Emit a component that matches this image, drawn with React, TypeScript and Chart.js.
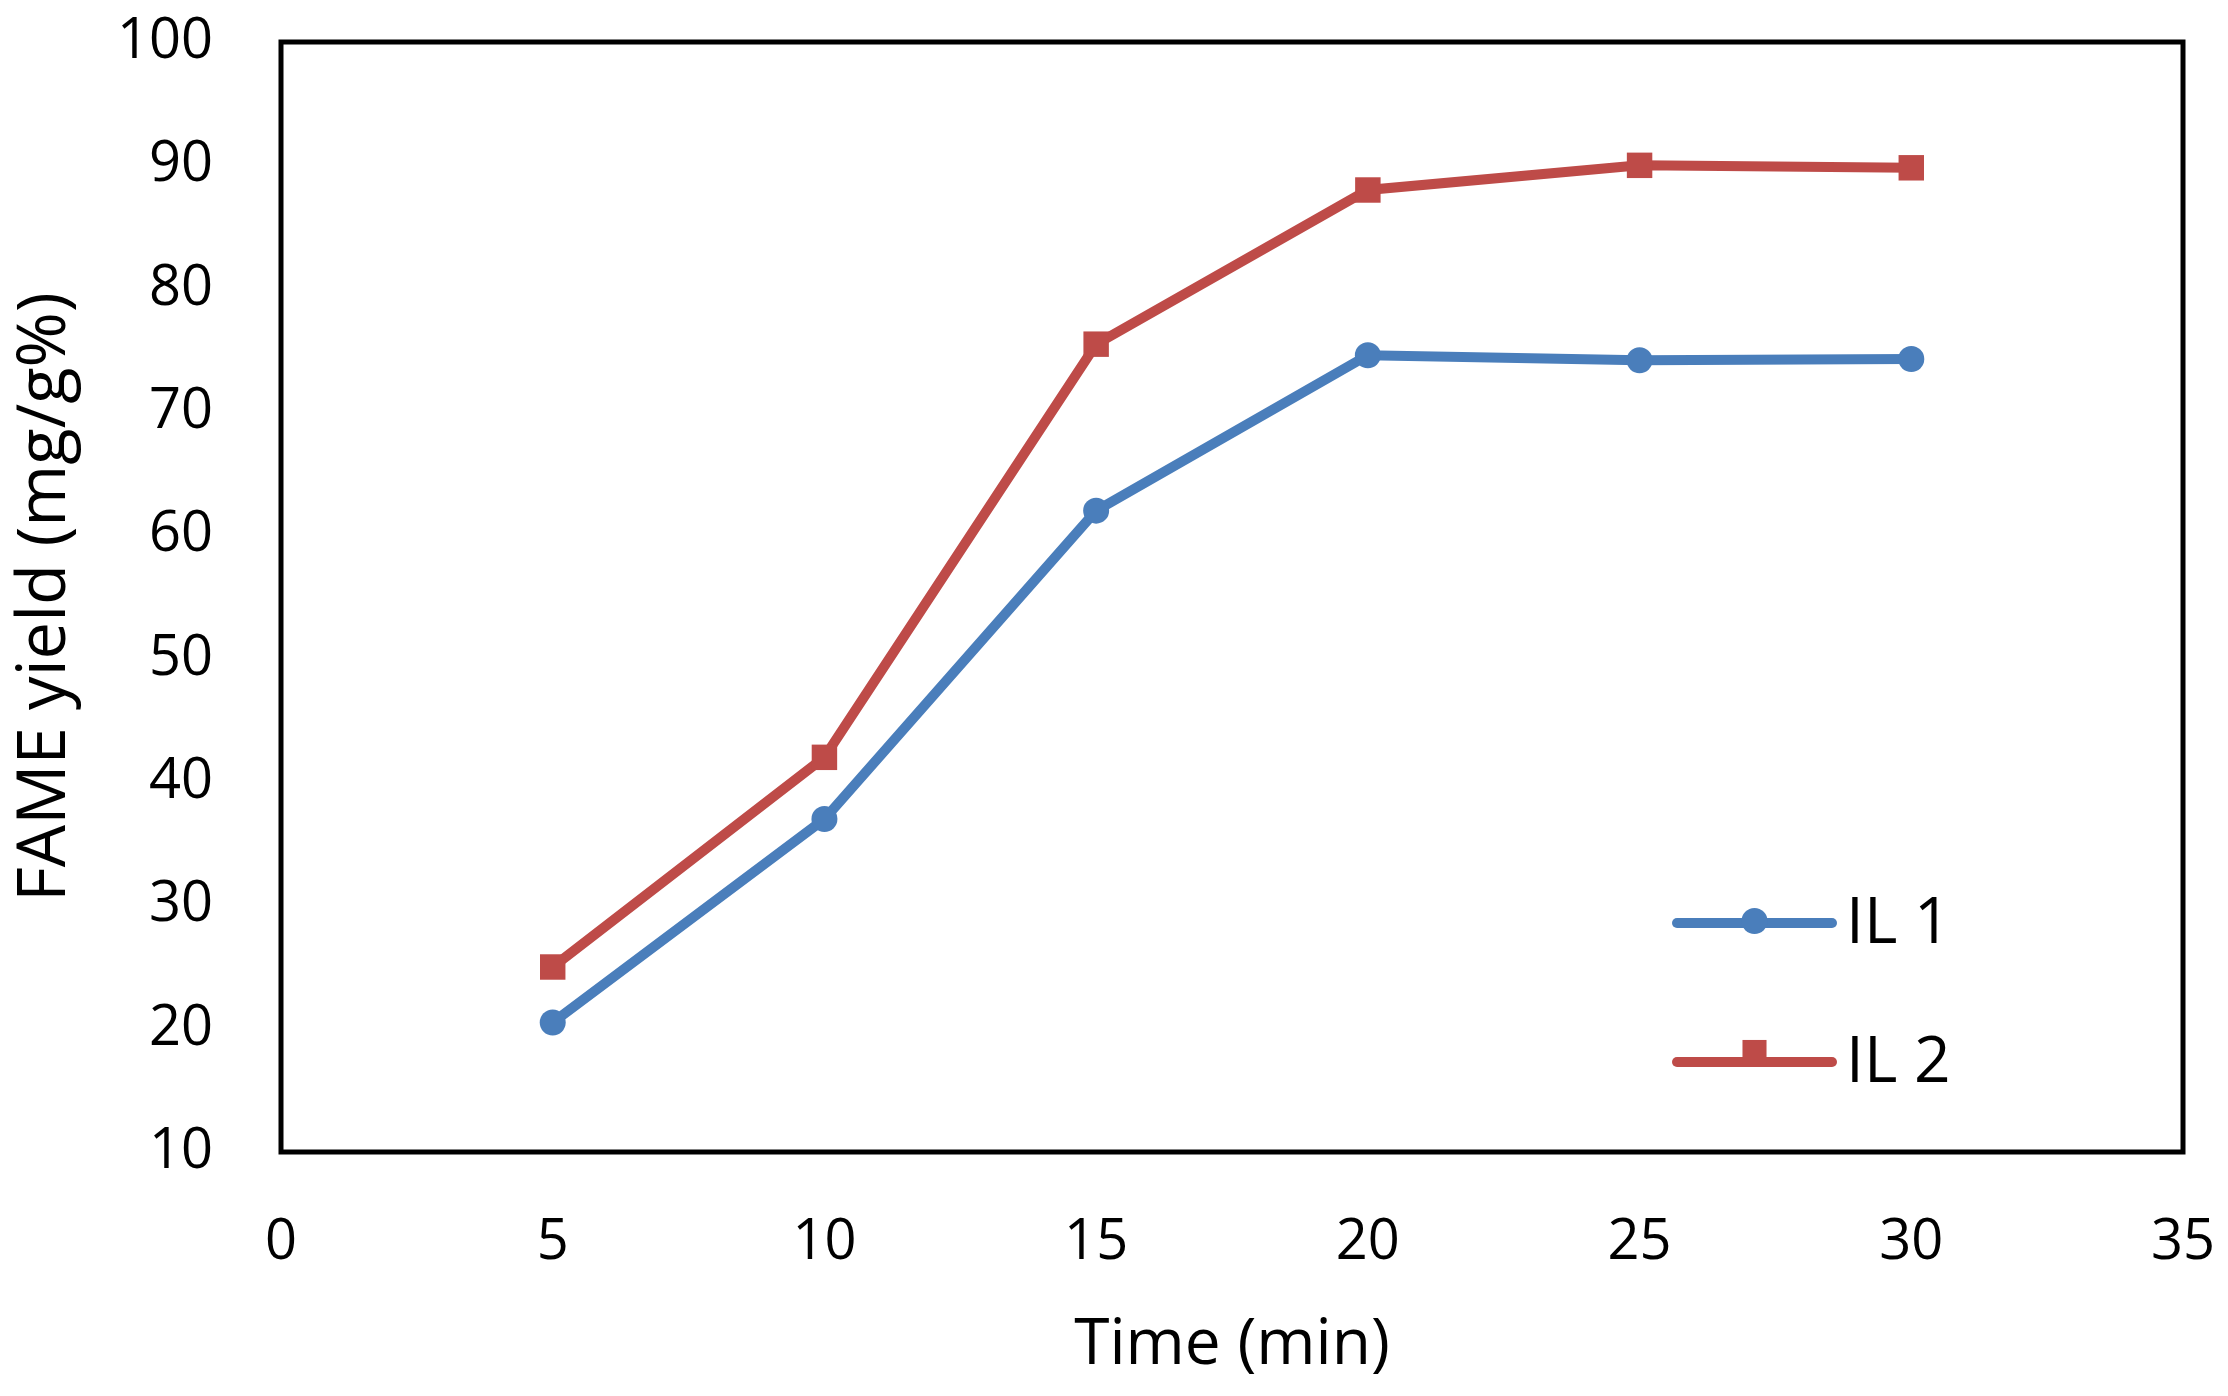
import React, { useEffect, useRef } from "react";
import { Chart, registerables } from "chart.js";

Chart.register(...registerables);

const timeMin = [5, 10, 15, 20, 25, 30];
const il1 = [20.5, 37, 62, 74.6, 74.2, 74.3];
const il2 = [25, 42, 75.5, 88, 90, 89.8];
const seriesNames = ["IL 1", "IL 2"];
const xTitle = "Time (min)";
const yTitle = "FAME yield (mg/g%)";

const BLUE = "#4A7EBB";
const RED = "#BE4B48";
const FONT = "'Open Sans', 'DejaVu Sans', sans-serif";

const frameAndLegend = {
  id: "frameAndLegend",
  afterDatasetsDraw(chart: any) {
    const { ctx, chartArea } = chart;
    ctx.save();
    ctx.strokeStyle = "#000";
    ctx.lineWidth = 5;
    ctx.strokeRect(chartArea.left, chartArea.top, chartArea.right - chartArea.left, chartArea.bottom - chartArea.top);

    const items = [
      { name: seriesNames[0], color: BLUE, style: "circle", r: 13, y: 923 },
      { name: seriesNames[1], color: RED, style: "rect", r: 17, y: 1062 },
    ];
    const x0 = 1677;
    const x1 = 1832;
    items.forEach((it) => {
      ctx.strokeStyle = it.color;
      ctx.lineWidth = 10;
      ctx.lineCap = "round";
      ctx.beginPath();
      ctx.moveTo(x0, it.y);
      ctx.lineTo(x1, it.y);
      ctx.stroke();
      ctx.fillStyle = it.color;
      const cx = (x0 + x1) / 2;
      if (it.style === "circle") {
        ctx.beginPath();
        ctx.arc(cx, it.y - 2, it.r, 0, Math.PI * 2);
        ctx.fill();
      } else {
        const s = it.r * Math.SQRT1_2;
        ctx.fillRect(cx - s, it.y - 2 * s + 2, 2 * s, 2 * s);
      }
      ctx.fillStyle = "#000";
      ctx.font = `64px ${FONT}`;
      ctx.textAlign = "left";
      ctx.textBaseline = "middle";
      ctx.fillText(it.name, 1846, it.y + 2);
    });
    ctx.restore();
  },
};

const noScalePadding = (s: any) => {
  s.paddingTop = 0;
  s.paddingBottom = 0;
  s.paddingLeft = 0;
  s.paddingRight = 0;
};

export default function App() {
  const ref = useRef<HTMLCanvasElement | null>(null);
  useEffect(() => {
    document.body.style.margin = "0";
    const canvas = ref.current!;
    const chart = new Chart(canvas, {
      type: "line",
      data: {
        datasets: [
          {
            label: seriesNames[0],
            data: timeMin.map((t, i) => ({ x: t, y: il1[i] })),
            borderColor: BLUE,
            backgroundColor: BLUE,
            borderWidth: 10,
            pointStyle: "circle",
            pointRadius: 13,
            pointBorderWidth: 0,
            tension: 0,
          },
          {
            label: seriesNames[1],
            data: timeMin.map((t, i) => ({ x: t, y: il2[i] })),
            borderColor: RED,
            backgroundColor: RED,
            borderWidth: 10,
            pointStyle: "rect",
            pointRadius: 18,
            pointBorderWidth: 0,
            tension: 0,
          },
        ],
      },
      options: {
        animation: false,
        responsive: false,
        devicePixelRatio: 1,
        layout: { padding: { left: 0, top: 42, right: 45, bottom: 0 } },
        plugins: { legend: { display: false }, tooltip: { enabled: false } },
        scales: {
          x: {
            type: "linear",
            min: 0,
            max: 35,
            ticks: { stepSize: 5, color: "#000", font: { family: FONT, size: 56 }, padding: 57 },
            grid: { display: false, drawTicks: false },
            border: { display: false },
            title: {
              display: true,
              text: xTitle,
              color: "#000",
              font: { family: FONT, size: 64 },
              padding: { top: 0, bottom: 12 },
            },
            afterFit: (s: any) => {
              s.height = 244;
              noScalePadding(s);
            },
          },
          y: {
            type: "linear",
            min: 10,
            max: 100,
            ticks: { stepSize: 10, color: "#000", font: { family: FONT, size: 56 }, padding: 68 },
            grid: { display: false, drawTicks: false },
            border: { display: false },
            title: {
              display: true,
              text: yTitle,
              color: "#000",
              font: { family: FONT, size: 67 },
              padding: { top: 6, bottom: 0 },
            },
            afterFit: (s: any) => {
              s.width = 281;
              noScalePadding(s);
            },
          },
        },
      },
      plugins: [frameAndLegend],
    });
    return () => chart.destroy();
  }, []);
  return (
    <div style={{ position: "absolute", left: 0, top: 0, width: 2228, height: 1396, background: "#fff" }}>
      <canvas ref={ref} width={2228} height={1396} style={{ width: 2228, height: 1396 }} />
    </div>
  );
}
